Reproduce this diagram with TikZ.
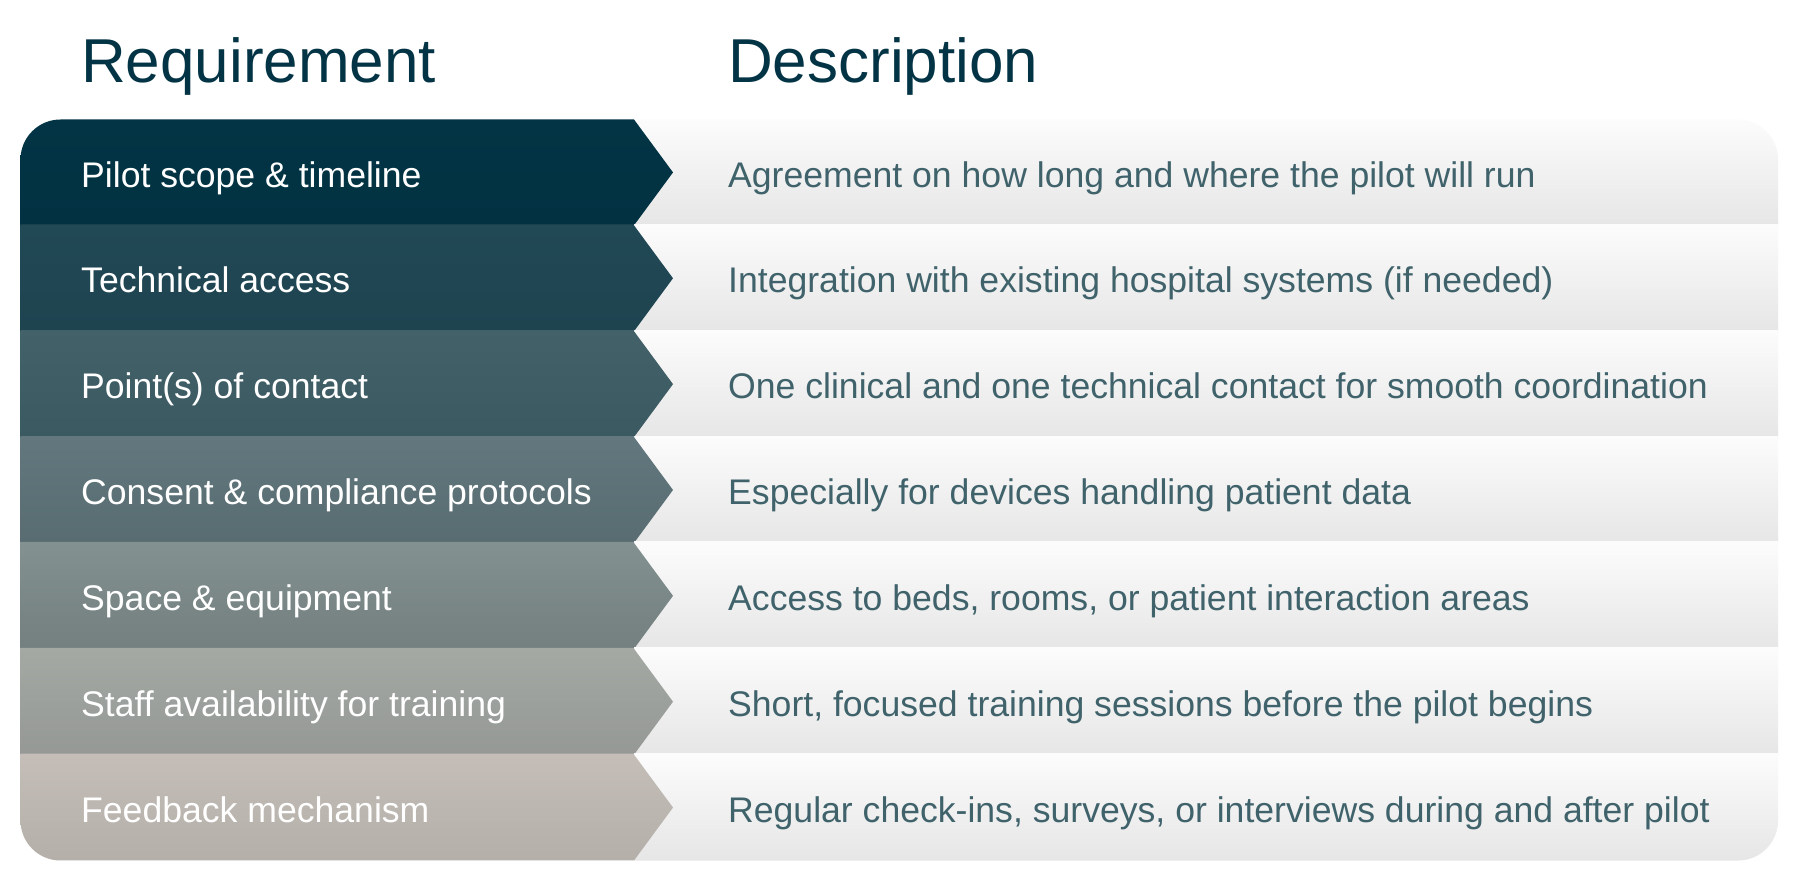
\documentclass[tikz,border=0pt]{standalone}
\usepackage{fontspec}
\setmainfont{Liberation Sans}
\definecolor{headcol}{RGB}{3,52,69}
\definecolor{desccol}{RGB}{63,98,107}
\definecolor{descTop}{RGB}{252,252,252}
\definecolor{descBot}{RGB}{230,230,230}
\definecolor{rAt}{RGB}{2,52,69}     \definecolor{rAb}{RGB}{2,50,66}
\definecolor{rBt}{RGB}{33,72,85}    \definecolor{rBb}{RGB}{30,68,80}
\definecolor{rCt}{RGB}{66,97,105}   \definecolor{rCb}{RGB}{59,89,97}
\definecolor{rDt}{RGB}{98,120,126}  \definecolor{rDb}{RGB}{88,108,113}
\definecolor{rEt}{RGB}{131,145,145} \definecolor{rEb}{RGB}{116,127,127}
\definecolor{rFt}{RGB}{164,169,164} \definecolor{rFb}{RGB}{149,152,149}
\definecolor{rGt}{RGB}{197,190,184} \definecolor{rGb}{RGB}{180,175,169}
\tikzset{
  heading/.style={anchor=base west,inner sep=0pt,text=headcol,font=\fontsize{62}{70}\selectfont},
  reqtext/.style={anchor=base west,inner sep=0pt,text=white,font=\fontsize{35.6}{42}\selectfont},
  desctext/.style={anchor=base west,inner sep=0pt,text=desccol,font=\fontsize{35.6}{42}\selectfont},
}
\newcommand\reqrow[6]{%
  \pgfmathsetmacro\rtop{761.5-105.857*#1}%
  \pgfmathsetmacro\rbot{\rtop-105.857}%
  \pgfmathsetmacro\rmid{\rtop-52.93}%
  \pgfmathsetmacro\rtopx{\rtop+1}%
  \shade[top color=descTop,bottom color=descBot] (634,\rbot) rectangle (1799,\rtopx);
  \shade[top color=#2,bottom color=#3] (0,\rbot) -- (634,\rbot) -- (673,\rmid) -- (634,\rtop) -- (634,\rtopx) -- (0,\rtopx) -- cycle;
  \node[reqtext] (req#6) at (81,\rmid-14.6) {#4};
  \node[desctext] (desc#6) at (728,\rmid-14.6) {#5};
}
\begin{document}
\begin{tikzpicture}[x=1pt,y=1pt]
\useasboundingbox (0,0) rectangle (1799,881);
\fill[white] (0,0) rectangle (1799,881);
\node[heading] (hreq) at (81,798) {Requirement};
\node[heading] (hdesc) at (728,798) {Description};
\begin{scope}
  \clip[rounded corners=40pt] (20.5,20.5) rectangle (1778,761.5);
  \reqrow{0}{rAt}{rAb}{Pilot scope \& timeline}{Agreement on how long and where the pilot will run}{1}
  \reqrow{1}{rBt}{rBb}{Technical access}{Integration with existing hospital systems (if needed)}{2}
  \reqrow{2}{rCt}{rCb}{Point(s) of contact}{One clinical and one technical contact for smooth coordination}{3}
  \reqrow{3}{rDt}{rDb}{Consent \& compliance protocols}{Especially for devices handling patient data}{4}
  \reqrow{4}{rEt}{rEb}{Space \& equipment}{Access to beds, rooms, or patient interaction areas}{5}
  \reqrow{5}{rFt}{rFb}{Staff availability for training}{Short, focused training sessions before the pilot begins}{6}
  \reqrow{6}{rGt}{rGb}{Feedback mechanism}{Regular check-ins, surveys, or interviews during and after pilot}{7}
\end{scope}
\end{tikzpicture}
\end{document}
